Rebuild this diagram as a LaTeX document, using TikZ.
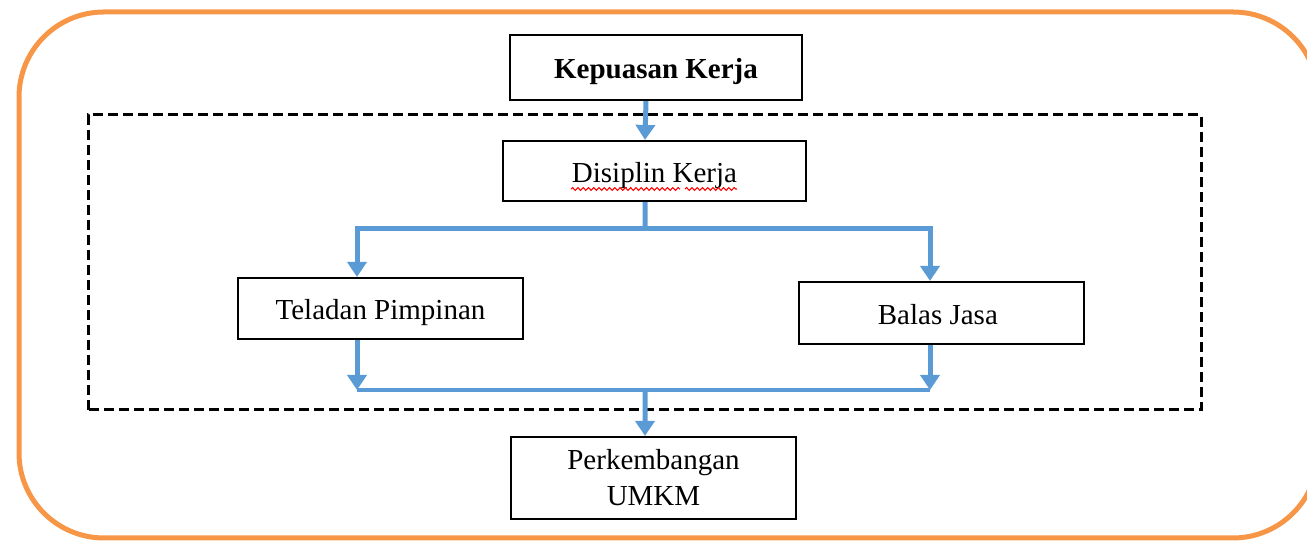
\documentclass[tikz,border=0pt]{standalone}
\usepackage{fontspec}
\setmainfont{Liberation Serif}
\usetikzlibrary{arrows.meta,decorations.pathmorphing}
\definecolor{flowblue}{RGB}{91,155,213}
\definecolor{frameorange}{RGB}{247,150,70}
\begin{document}
\begin{tikzpicture}
		[
			box/.style={draw, line width=1.2pt, fill=white, inner sep=2pt, font=\fontsize{16.5}{20.5}\selectfont, align=center},
			onebox/.style={box, text height=16.5pt, text depth=3.6pt},
			flow/.style={draw=flowblue, line width=0.1cm},
			flowarrow/.style={flow, -{Triangle[length=0.3cm, width=0.38cm]}},
			spell/.style={red, line width=0.6pt, decorate, decoration={snake, amplitude=0.8pt, segment length=3pt}},
		]

		\useasboundingbox (0,0) rectangle (26.14,10.92);

		% Frames
		\begin{scope}
			\clip (0,0) rectangle (26.14,10.92);
			\draw[frameorange, line width=0.1cm, rounded corners=1.7cm] (0.38,0.16) rectangle (26.36,10.68);
		\end{scope}
		\draw[line width=0.06cm, dash pattern=on 0.2cm off 0.1cm] (1.76,2.72) rectangle (24.02,8.62);

		% Nodes
		\node[onebox, minimum width=5.84cm, minimum height=1.3cm, font=\fontsize{16.5}{20.5}\selectfont\bfseries] (kepuasan) at (13.12,9.57) {Kepuasan Kerja};
		\foreach \name/\x/\y/\bw/\bh/\lbl in
		{
			disiplin/13.09/7.5/6.06/1.2/Disiplin Kerja,
			teladan/7.61/4.75/5.7/1.22/Teladan Pimpinan,
			balas/18.83/4.66/5.7/1.24/Balas Jasa
		}
			\node[onebox, minimum width=\bw cm, minimum height=\bh cm] (\name) at (\x,\y) {\lbl};
		\node[box, minimum width=5.7cm, minimum height=1.64cm] (umkm) at (13.07,1.36) {Perkembangan\\UMKM};

		% Spelling marks
		\draw[spell] ([xshift=-1.67cm, yshift=-0.36cm]disiplin.center) -- ([xshift=0.51cm, yshift=-0.36cm]disiplin.center);
		\draw[spell] ([xshift=0.61cm, yshift=-0.36cm]disiplin.center) -- ([xshift=1.65cm, yshift=-0.36cm]disiplin.center);

		% Flows
		\coordinate (split) at (12.9,6.34);
		\coordinate (merge) at (12.9,3.12);

		\draw[flowarrow] ([xshift=-0.2cm]kepuasan.south) -- ([xshift=-0.19cm]disiplin.north);
		\draw[flow] ([xshift=-0.19cm]disiplin.south) -- (split);
		\foreach \v/\s in {teladan/-0.47, balas/-0.23}
		{
			\draw[flowarrow] (split) -| ([xshift=\s cm]\v.north);
			\draw[flowarrow] ([xshift=\s cm]\v.south) -- ([xshift=\s cm]\v.south |- merge);
		}
		\draw[draw=flowblue, line width=0.07cm] ([xshift=-0.47cm]teladan.south |- merge) -- ([xshift=-0.23cm]balas.south |- merge);
		\draw[flowarrow] (merge) -- ([xshift=-0.17cm]umkm.north);

		\end{tikzpicture}
\end{document}
